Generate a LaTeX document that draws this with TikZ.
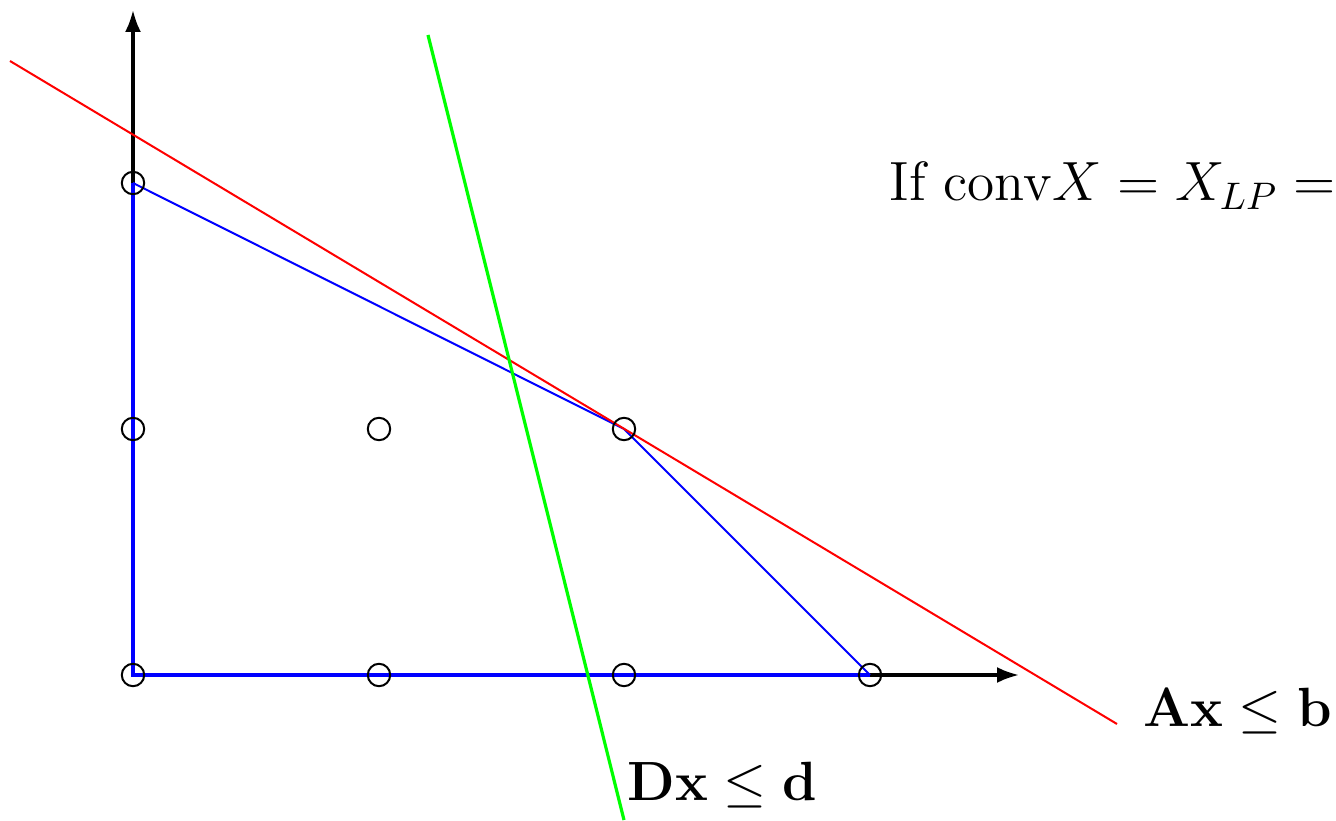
\documentclass[tikz,border=0pt]{standalone}
\usetikzlibrary{arrows.meta}
\begin{document}
\begin{tikzpicture}[x=0.25pt,y=-0.25pt,
  axis/.style={line width=0.8pt,black,-{Latex[length=5.5pt,width=4pt]}},
  hullthick/.style={line width=0.8pt,blue},
  hullthin/.style={line width=0.5pt,blue},
  redline/.style={line width=0.5pt,red},
  greenline/.style={line width=0.8pt,green},
  pt/.style={circle,draw=black,line width=0.5pt,minimum size=5.6pt,inner sep=0pt},
  lbl/.style={anchor=base west,inner sep=0pt,font=\fontsize{14.4}{17}\selectfont,scale=0.96,transform shape}]
\clip (0,0) rectangle (1336,821);
\useasboundingbox (0,0) rectangle (1336,821);
% coordinates
\coordinate (O) at (133,675);
\coordinate (ytip) at (133,10);
\coordinate (xtip) at (1019,675);
\coordinate (r1) at (10,61);
\coordinate (r2) at (1117,724);
\coordinate (g1) at (428,35);
\coordinate (g2) at (624,820);
% axes
\draw[axis] (O) -- (ytip);
\draw[axis] (O) -- (xtip);
% hull
\draw[hullthick] (133,183) -- (O) -- (870,675);
\draw[hullthin] (133,183) -- (624,429) -- (870,675);
% constraint lines
\draw[redline] (r1) -- (r2);
\draw[greenline] (g1) -- (g2);
% lattice points
\node[pt] (p02) at (133,183) {};
\node[pt] (p01) at (133,429) {};
\node[pt] (p11) at (379,429) {};
\node[pt] (p21) at (624,429) {};
\node[pt] (p00) at (133,675) {};
\node[pt] (p10) at (379,675) {};
\node[pt] (p20) at (624,675) {};
\node[pt] (p30) at (870,675) {};
% labels
\node[lbl] (tconv) at (889,201) {If $\mathrm{conv}X = X_{LP} =$};
\node[lbl] (tA) at (1143,726) {$\mathbf{Ax} \le \mathbf{b}$};
\node[lbl] (tD) at (627,800) {$\mathbf{Dx} \le \mathbf{d}$};
\end{tikzpicture}
\end{document}
